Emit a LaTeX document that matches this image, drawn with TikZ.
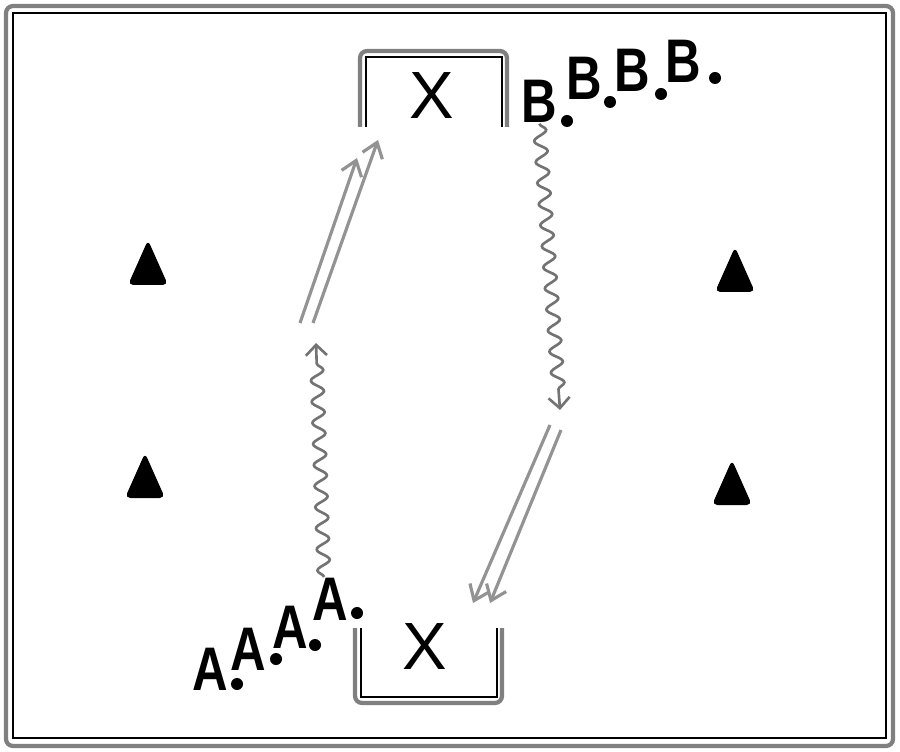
\documentclass[tikz,border=0pt]{standalone}
\usepackage{fontspec}
\setmainfont{Liberation Sans}
\usetikzlibrary{arrows.meta,decorations.pathmorphing}
\tikzset{wall/.style={gray, line width=1.2pt, rounded corners=2pt}}
\tikzset{rim/.style={black, line width=0.45pt}}
\tikzset{player/.style={inner sep=0pt, anchor=base west, xscale=0.8,
      font=\fontsize{17.5}{17.5}\bfseries\selectfont}}
\tikzset{ball/.style={circle, fill, inner sep=0pt, minimum size=0.12cm}}
\tikzset{goal/.style={inner sep=0pt, font=\fontsize{19}{19}\selectfont}}
\tikzset{run/.style={gray!90!black, line width=0.75pt, decoration={snake, segment length=6pt,
      amplitude=1.8pt, post length=4pt}, decorate, -{Straight Barb[length=3pt,width=6pt]}}}
\tikzset{pass/.style={gray!85, line width=0.9pt, -{Straight Barb[length=4pt,width=6pt]}}}
\tikzset{cone/.pic={\fill[rounded corners=1.5pt] (-20,22) -- (0,-23) -- (20,22) -- cycle;}}

\begin{document}
\begin{tikzpicture}[x=0.01cm, y=-0.01cm]
    \useasboundingbox (0,0) rectangle (900,752);
    % pitch
    \draw[wall] (6,6) rectangle (893,746);
    \draw[rim] (13,13) rectangle (886,738);
    % goals
    \draw[wall] (360,127) -- (360,51) -- (507,51) -- (507,127);
    \draw[rim] (366,127) -- (366,57) -- (502,57) -- (502,127);
    \draw[wall] (355,628) -- (355,703) -- (502,703) -- (502,628);
    \draw[rim] (361,628) -- (361,697) -- (497,697) -- (497,628);
    \node[goal] (goalT) at (432,96) {X};
    \node[goal] (goalB) at (425,647) {X};
    % cones
    \pic (coneTL) at (148,263) {cone};
    \pic (coneBL) at (145,476) {cone};
    \pic (coneTR) at (735,270) {cone};
    \pic (coneBR) at (732,483) {cone};
    % players
    \node[player] (B1) at (521,123) {B};
    \node[player] (B2) at (566,100) {B};
    \node[player] (B3) at (614,92) {B};
    \node[player] (B4) at (665,83) {B};
    \node[player] (A1) at (192,690) {A};
    \node[player] (A2) at (230,670) {A};
    \node[player] (A3) at (272,648) {A};
    \node[player] (A4) at (312,620) {A};
    \node[ball] (bB1) at (567,121) {};
    \node[ball] (bB2) at (610,102) {};
    \node[ball] (bB3) at (661,94) {};
    \node[ball] (bB4) at (715,78) {};
    \node[ball] (bA1) at (237,684) {};
    \node[ball] (bA2) at (276,659) {};
    \node[ball] (bA3) at (315,645) {};
    \node[ball] (bA4) at (357,613) {};
    % runs
    \coordinate (runA) at (316,343);
    \coordinate (runB) at (560,410);
    \draw[run] (A4.north -| 324,0) -- (runA);
    \draw[run] (B1.south) -- (runB);
    % passes
    \coordinate (passA1s) at (300,323);
    \coordinate (passA1e) at (357,158);
    \coordinate (passA2s) at (313,323);
    \coordinate (passA2e) at (378,140);
    \coordinate (passB1s) at (550,425);
    \coordinate (passB1e) at (473,603);
    \coordinate (passB2s) at (561,430);
    \coordinate (passB2e) at (490,603);
    \draw[pass] (passA1s) -- (passA1e);
    \draw[pass] (passA2s) -- (passA2e);
    \draw[pass] (passB1s) -- (passB1e);
    \draw[pass] (passB2s) -- (passB2e);
\end{tikzpicture}
\end{document}
